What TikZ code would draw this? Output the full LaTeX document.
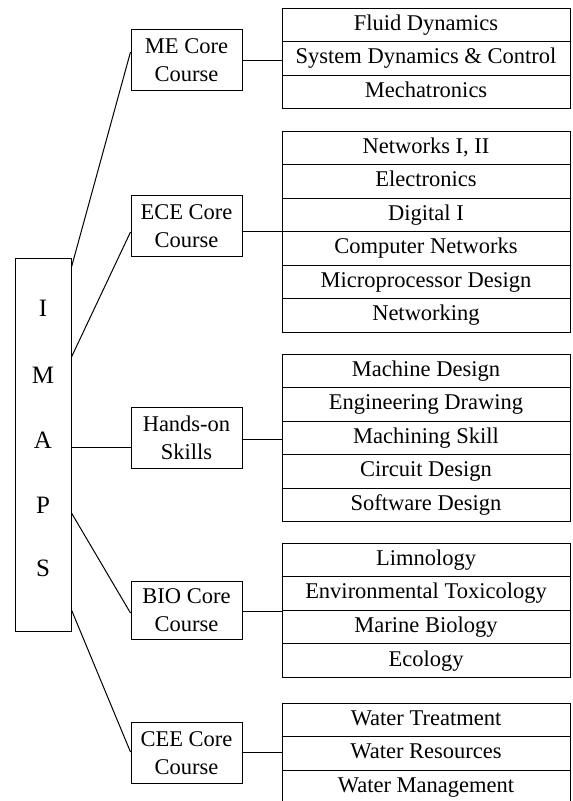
\documentclass[tikz,border=0pt]{standalone}
\usepackage{fontspec}
\setmainfont{Liberation Serif}
\usepackage{tikz}

\begin{document}
\begin{tikzpicture}[x=1pt,y=-1pt]
\tikzstyle{every node}=[font=\fontsize{22.5}{28}\selectfont]
\tikzstyle{course}=[draw,line width=1pt,minimum width=111pt,minimum height=61pt,align=center,inner sep=0pt]
\tikzstyle{subject}=[draw,line width=1pt,minimum width=288pt,minimum height=33.5pt,inner sep=0pt,text height=16pt,text depth=5pt]
\tikzstyle{link}=[line width=1pt]
\useasboundingbox (0,0) rectangle (573,801);

\node[draw,line width=1pt,minimum width=56pt,minimum height=373pt] (imaps) at (43,444.5) {};
\foreach \l/\y [count=\i] in {I/308,M/375,A/440,P/505,S/568}
\node[font=\fontsize{25}{28}\selectfont] (letter\i) at (43,\y) {\l};

\node[course] (me) at (186.5,60) {ME Core\\Course};
\node[course] (ece) at (186.5,226) {ECE Core\\Course};
\node[course] (hands) at (186.5,438) {Hands-on\\Skills};
\node[course,minimum height=58pt] (bio) at (186.5,610) {BIO Core\\Course};
\node[course] (cee) at (186.5,753) {CEE Core\\Course};

% subject lists
\foreach \t [count=\i] in {Fluid Dynamics,System Dynamics \& Control,Mechatronics}
\node[subject] (me\i) at (426,-8.75+33.5*\i) {\t};
\foreach \t [count=\i] in {{Networks I, II},Electronics,Digital I,Computer Networks,Microprocessor Design,Networking}
\node[subject] (ece\i) at (426,114.25+33.5*\i) {\t};
\foreach \t [count=\i] in {Machine Design,Engineering Drawing,Machining Skill,Circuit Design,Software Design}
\node[subject] (hands\i) at (426,337.25+33.5*\i) {\t};
\foreach \t [count=\i] in {Limnology,Environmental Toxicology,Marine Biology,Ecology}
\node[subject] (bio\i) at (426,526.25+33.6*\i) {\t};
\foreach \t [count=\i] in {Water Treatment,Water Resources,Water Management}
\node[subject] (cee\i) at (426,686.25+33.5*\i) {\t};

\draw[link] (imaps.east |- 0,267) -- (me.west |- 0,52);
\draw[link] (imaps.east |- 0,357) -- (ece.west |- 0,232);
\draw[link] (imaps.east |- 0,447) -- (hands.west |- 0,447);
\draw[link] (imaps.east |- 0,513) -- (bio.west |- 0,613);
\draw[link] (imaps.east |- 0,610) -- (cee.west |- 0,752);

\draw[link] (me.east |- 0,60) -- (me2.west |- 0,60);
\draw[link] (ece.east |- 0,231) -- (ece4.west |- 0,231);
\draw[link] (hands.east |- 0,439) -- (hands3.west |- 0,439);
\draw[link] (bio.east |- 0,611) -- (bio3.west |- 0,611);
\draw[link] (cee.east |- 0,752) -- (cee2.west |- 0,752);
\end{tikzpicture}
\end{document}
